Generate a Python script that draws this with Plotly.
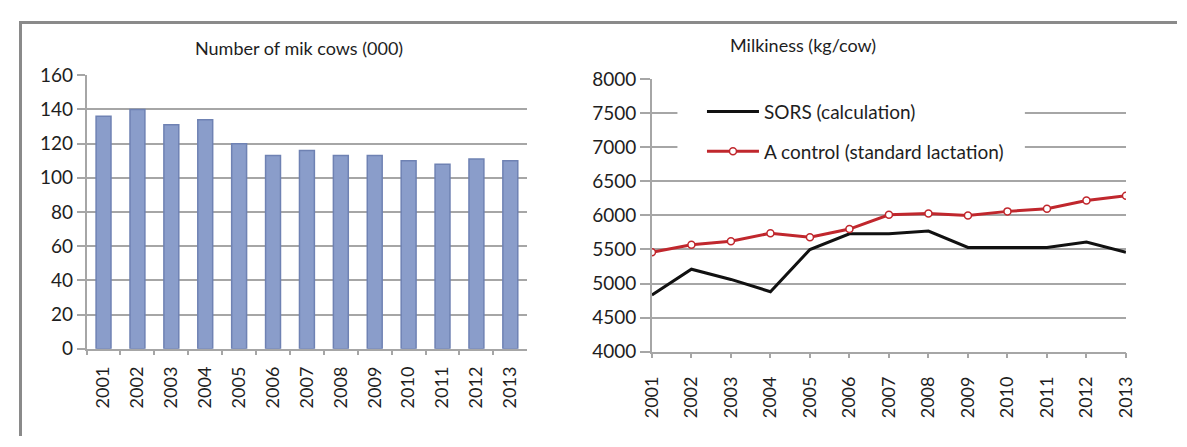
import plotly.graph_objects as go

years = [str(y) for y in range(2001, 2014)]

# Number of milk cows, thousands
cows = [136, 140, 131, 134, 120, 113, 116, 113, 113, 110, 108, 111, 110]

# Milk yield per cow, kg
sors_calc = [4830, 5210, 5060, 4880, 5500, 5730, 5730, 5770, 5530, 5530, 5530, 5610, 5460]
a_control = [5460, 5570, 5620, 5740, 5680, 5800, 6010, 6030, 6000, 6060, 6100, 6220, 6290]

left_title = "Number of mik cows (000)"
right_title = "Milkiness (kg/cow)"
sors_name = "SORS (calculation)"
control_name = "A control (standard lactation)"

W, H = 1187, 447
FONT = "Lato, 'Open Sans', sans-serif"
TXT = "#1e1e1e"
GRID = "#a6a6a6"
FRAME = "#8a8a8a"


def px_x(p):
    return p / W


def px_y(p):
    return 1 - p / H


fig = go.Figure()

fig.add_trace(go.Bar(
    x=years, y=cows, xaxis="x", yaxis="y",
    marker=dict(color="#8a9dca", line=dict(color="#6f82b3", width=1.5)),
    width=0.44, showlegend=False,
))

fig.add_trace(go.Scatter(
    x=years, y=sors_calc, xaxis="x2", yaxis="y2", name=sors_name,
    mode="lines", line=dict(color="#111111", width=3),
    legendgroup="a",
))
fig.add_trace(go.Scatter(
    x=years, y=a_control, xaxis="x2", yaxis="y2", name=control_name,
    mode="lines+markers", line=dict(color="#c0272d", width=3),
    marker=dict(symbol="circle", size=7, color="white",
                line=dict(color="#c0272d", width=1.5)),
    legendgroup="b",
))

# empty subplot whose axis lines form the outer frame (top and left edges)
fig.add_trace(go.Scatter(
    x=[], y=[], xaxis="x3", yaxis="y3", showlegend=False, hoverinfo="skip",
))

axis_common = dict(
    showline=True, linecolor=GRID, linewidth=1.5,
    ticks="outside", tickcolor=GRID, tickwidth=1.5,
    zeroline=False,
)

frame_axis = dict(
    showline=True, linecolor=FRAME, linewidth=2.5,
    showticklabels=False, ticks="", showgrid=False, zeroline=False,
    range=[0, 1], fixedrange=True,
)

fig.update_layout(
    width=W, height=H,
    margin=dict(l=0, r=0, t=0, b=0),
    paper_bgcolor="white", plot_bgcolor="rgba(0,0,0,0)",
    font=dict(family=FONT, color=TXT),
    xaxis=dict(
        domain=[px_x(76), px_x(525)], anchor="y",
        type="category", tickson="boundaries", ticklen=5,
        tickangle=-90, showgrid=False, ticklabelstandoff=9,
        tickfont=dict(family=FONT, size=18, color=TXT),
        **axis_common,
    ),
    yaxis=dict(
        domain=[px_y(355), px_y(66.7)], anchor="x",
        range=[0, 160], tickvals=list(range(0, 161, 20)), ticklen=8,
        showgrid=True, gridcolor=GRID, gridwidth=2,
        tickfont=dict(family=FONT, size=19, color=TXT),
        **axis_common,
    ),
    xaxis2=dict(
        domain=[px_x(652), px_x(1135)], anchor="y2",
        type="category", range=[0, 12], ticklen=5,
        tickangle=-90, showgrid=False, ticklabelstandoff=11,
        tickfont=dict(family=FONT, size=18, color=TXT),
        **axis_common,
    ),
    yaxis2=dict(
        domain=[px_y(358), px_y(71)], anchor="x2",
        range=[4000, 8000], tickvals=list(range(4000, 8001, 500)), ticklen=10,
        showgrid=True, gridcolor=GRID, gridwidth=2,
        tickfont=dict(family=FONT, size=19, color=TXT),
        **axis_common,
    ),
    xaxis3=dict(domain=[px_x(10), 1], anchor="y3", side="top", **frame_axis),
    yaxis3=dict(domain=[0, px_y(13)], anchor="x3", side="left", **frame_axis),
    legend=dict(
        x=px_x(703), y=px_y(85), xanchor="left", yanchor="top",
        bgcolor="rgba(255,255,255,0)", font=dict(family=FONT, size=19, color=TXT),
        tracegroupgap=12, itemwidth=52,
    ),
    annotations=[
        dict(text=left_title, x=px_x(292), y=px_y(38), xref="paper", yref="paper",
             showarrow=False, font=dict(family=FONT, size=18, color=TXT),
             xanchor="center", yanchor="middle"),
        dict(text=right_title, x=px_x(806), y=px_y(35), xref="paper", yref="paper",
             showarrow=False, font=dict(family=FONT, size=18, color=TXT),
             xanchor="center", yanchor="middle"),
    ],
    shapes=[
        # white box behind the legend, hiding the gridlines it sits on
        dict(type="rect", xref="paper", yref="paper",
             x0=px_x(678), x1=px_x(1032), y0=px_y(162), y1=px_y(80),
             line=dict(width=0), fillcolor="white", layer="above"),
    ],
)

fig.write_html("out.html", post_script="document.body.style.margin = '0';")
